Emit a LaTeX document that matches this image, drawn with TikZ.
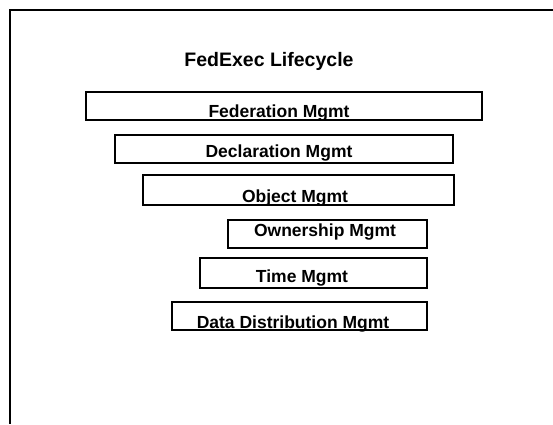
\documentclass[tikz,border=0pt]{standalone}
\usepackage{fontspec}
\setmainfont{Liberation Sans}
\begin{document}
\begin{tikzpicture}[x=1pt,y=-1pt,
  mgmtbox/.style={draw=black, line width=2pt, inner sep=0pt},
  mgmtlbl/.style={font=\fontsize{17.5}{19}\selectfont\bfseries, anchor=base, inner sep=0pt},
  titlelbl/.style={font=\fontsize{19.5}{22}\selectfont\bfseries, anchor=base, inner sep=0pt}]
\useasboundingbox (0,0) rectangle (553,424);
\fill[white] (0,0) rectangle (553,424);
% frame (cropped on right and bottom)
\coordinate (fa) at (553,9.5);
\coordinate (fb) at (10,9.5);
\coordinate (fc) at (10,424);
\draw[line width=2pt] (fa) -- (fb) -- (fc);
% title
\node[titlelbl] (title) at (269,66) {FedExec Lifecycle};
% boxes
\draw[mgmtbox] (86,92) rectangle (482,120);
\node[mgmtlbl] (fed) at (279,117) {Federation Mgmt};
\draw[mgmtbox] (115,135) rectangle (453,163);
\node[mgmtlbl] (decl) at (279,157) {Declaration Mgmt};
\draw[mgmtbox] (143,175) rectangle (454,205);
\node[mgmtlbl] (obj) at (295,202) {Object Mgmt};
\draw[mgmtbox] (228,220) rectangle (427,248);
\node[mgmtlbl] (own) at (325,236) {Ownership Mgmt};
\draw[mgmtbox] (200,258) rectangle (427,288);
\node[mgmtlbl] (time) at (302,282) {Time Mgmt};
\draw[mgmtbox] (172,302) rectangle (427,330);
\node[mgmtlbl] (ddm) at (293,328) {Data Distribution Mgmt};
\end{tikzpicture}
\end{document}
